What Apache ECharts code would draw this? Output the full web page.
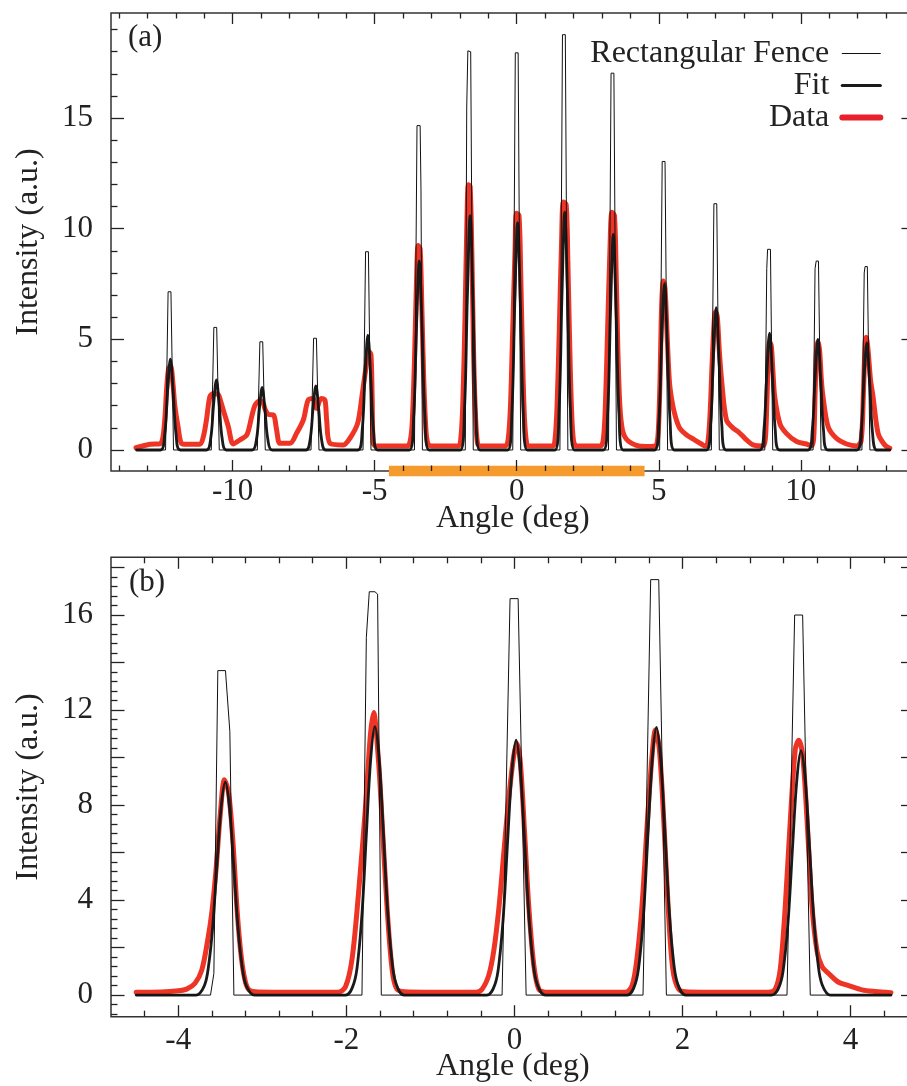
<!DOCTYPE html>
<html><head><meta charset="utf-8">
<script src="https://cdn.jsdelivr.net/npm/echarts@6/dist/echarts.min.js"></script>
<style>html,body{margin:0;padding:0;background:#fff;overflow:hidden}#c{width:907px;height:1086px}</style>
</head><body><div id="c"></div>
<script>
// ---------------- data: panel (a) ----------------
const xRangeA = [-14.28, 14.0];
const yRangeA = [-0.95, 19.75];
const xMajorA = [-10, -5, 0, 5, 10];
const xMinorA = [-14,-13,-12,-11,-9,-8,-7,-6,-4,-3,-2,-1,1,2,3,4,6,7,8,9,11,12,13,14];
const yMajorA = [0, 5, 10, 15];
const yMinorA = [1,2,3,4,6,7,8,9,11,12,13,14,16,17,18,19];
const zoomRangeA = [-4.5, 4.5];

const fenceA = [
  [-13.38,0],
  [-12.36,0],[-12.27,7.15],[-12.17,7.15],[-12.08,0],
  [-10.75,0],[-10.66,5.54],[-10.56,5.54],[-10.47,0],
  [-9.13,0],[-9.04,4.89],[-8.94,4.89],[-8.85,0],
  [-7.24,0],[-7.15,5.05],[-7.05,5.05],[-6.96,0],
  [-5.41,0],[-5.32,8.96],[-5.22,8.96],[-5.13,0],
  [-3.60,0],[-3.51,14.66],[-3.40,14.66],[-3.37,11.8],[-3.32,0],
  [-1.81,0],[-1.76,15.5],[-1.72,18.04],[-1.62,18.0],[-1.53,0],
  [-0.14,0],[-0.05,17.95],[0.05,17.95],[0.14,0],
  [1.52,0],[1.61,18.77],[1.71,18.77],[1.80,0],
  [3.23,0],[3.32,17.03],[3.42,17.03],[3.51,0],
  [5.03,0],[5.12,13.04],[5.22,13.04],[5.31,0],
  [6.85,0],[6.94,11.13],[7.04,11.13],[7.13,0],
  [8.73,0],[8.80,8.2],[8.83,9.07],[8.93,9.07],[9.01,0],
  [10.43,0],[10.50,8.2],[10.54,8.54],[10.62,8.54],[10.71,0],
  [12.15,0],[12.23,8.0],[12.26,8.29],[12.34,8.29],[12.43,0],
  [13.13,0]
];

const fitA = [
  [-13.38,0],[-12.54,0],[-12.39,0.70],[-12.29,2.62],[-12.19,4.10],[-12.09,2.62],[-11.99,0.70],[-11.84,0],
  [-10.92,0],[-10.77,0.54],[-10.67,2.03],[-10.57,3.17],[-10.47,2.03],[-10.37,0.54],[-10.22,0],
  [-9.31,0],[-9.16,0.48],[-9.06,1.81],[-8.96,2.83],[-8.86,1.81],[-8.76,0.48],[-8.61,0],
  [-7.42,0],[-7.27,0.49],[-7.17,1.86],[-7.07,2.90],[-6.97,1.86],[-6.87,0.49],[-6.72,0],
  [-5.59,0],[-5.44,0.88],[-5.34,3.32],[-5.24,5.19],[-5.14,3.32],[-5.04,0.88],[-4.89,0],
  [-3.78,0],[-3.63,1.45],[-3.53,5.47],[-3.43,8.54],[-3.33,5.47],[-3.23,1.45],[-3.08,0],
  [-1.99,0],[-1.84,1.80],[-1.74,6.78],[-1.64,10.59],[-1.54,6.78],[-1.44,1.80],[-1.29,0],
  [-0.32,0],[-0.17,1.75],[-0.07,6.58],[0.03,10.28],[0.13,6.58],[0.23,1.75],[0.38,0],
  [1.34,0],[1.49,1.83],[1.59,6.88],[1.69,10.75],[1.79,6.88],[1.89,1.83],[2.04,0],
  [3.05,0],[3.20,1.66],[3.30,6.23],[3.40,9.74],[3.50,6.23],[3.60,1.66],[3.75,0],
  [4.85,0],[5.00,1.28],[5.10,4.82],[5.20,7.53],[5.30,4.82],[5.40,1.28],[5.55,0],
  [6.67,0],[6.82,1.09],[6.92,4.12],[7.02,6.43],[7.12,4.12],[7.22,1.09],[7.37,0],
  [8.55,0],[8.70,0.90],[8.80,3.38],[8.90,5.28],[9.00,3.38],[9.10,0.90],[9.25,0],
  [10.25,0],[10.40,0.85],[10.50,3.20],[10.60,5.00],[10.70,3.20],[10.80,0.85],[10.95,0],
  [11.97,0],[12.12,0.82],[12.22,3.10],[12.32,4.84],[12.42,3.10],[12.52,0.82],[12.67,0],[13.13,0]
];

const dataA = [
  [-13.40,0.10],[-12.90,0.26],[-12.55,0.28],[-12.45,0.6],[-12.38,1.5],[-12.32,2.8],[-12.25,3.7],[-12.18,3.8],
  [-12.10,3.0],[-12.03,1.96],[-11.92,1.05],[-11.80,0.3],[-11.60,0.26],[-11.15,0.26],[-11.03,0.6],[-10.92,1.36],
  [-10.80,2.41],[-10.68,2.55],[-10.50,2.5],[-10.42,2.2],[-10.33,1.81],[-10.15,1.05],[-9.98,0.27],[-9.75,0.45],
  [-9.50,0.68],[-9.33,1.5],[-9.21,2.03],[-9.04,2.23],[-8.92,2.1],[-8.86,1.85],[-8.74,1.61],[-8.56,1.58],
  [-8.45,0.9],[-8.33,0.3],[-7.98,0.3],[-7.75,0.75],[-7.51,1.36],[-7.34,2.26],[-7.16,2.33],[-7.10,2.0],
  [-7.04,1.88],[-6.95,2.2],[-6.87,2.33],[-6.75,2.26],[-6.69,1.36],[-6.57,0.3],[-6.10,0.23],[-5.87,0.53],
  [-5.60,1.2],[-5.45,2.4],[-5.32,3.6],[-5.20,4.46],[-5.13,4.3],[-5.09,2.5],[-5.05,0.3],[-4.95,0.18],
  [-3.85,0.18],[-3.75,0.4],[-3.68,1.2],[-3.60,4.0],[-3.53,7.5],[-3.47,9.24],[-3.40,9.1],[-3.34,6.5],
  [-3.28,3.5],[-3.20,1.0],[-3.12,0.25],[-2.95,0.18],
  [-2.05,0.18],[-1.97,0.5],[-1.90,2.0],[-1.82,6.0],[-1.75,10.5],[-1.70,11.99],[-1.64,11.9],[-1.58,9.0],
  [-1.52,4.5],[-1.45,1.5],[-1.38,0.3],[-1.30,0.18],
  [-0.40,0.18],[-0.30,0.5],[-0.22,2.0],[-0.14,5.5],[-0.06,9.0],[-0.01,10.7],[0.08,10.6],[0.14,8.0],
  [0.20,4.5],[0.27,1.5],[0.35,0.3],[0.45,0.18],
  [1.27,0.18],[1.35,0.5],[1.42,2.0],[1.50,5.5],[1.58,9.5],[1.64,11.21],[1.74,11.1],[1.80,8.5],
  [1.86,5.0],[1.93,1.8],[2.00,0.4],[2.10,0.18],
  [2.95,0.18],[3.05,0.5],[3.12,2.0],[3.20,5.5],[3.28,9.0],[3.35,10.75],[3.44,10.6],[3.50,8.0],
  [3.56,4.5],[3.63,2.0],[3.72,0.9],[3.85,0.5],[4.05,0.3],[4.30,0.18],[4.70,0.16],
  [4.90,0.2],[4.98,0.8],[5.04,3.0],[5.10,6.5],[5.16,7.64],[5.22,7.3],[5.30,5.0],[5.38,3.0],
  [5.50,1.96],[5.62,1.36],[5.74,0.98],[5.98,0.68],[6.27,0.45],[6.50,0.27],[6.62,0.18],
  [6.72,0.3],[6.80,1.5],[6.88,4.0],[6.96,6.0],[7.00,6.25],[7.06,6.0],[7.13,4.5],[7.21,3.16],
  [7.38,1.36],[7.62,0.98],[7.79,0.83],[8.03,0.53],[8.32,0.23],[8.67,0.18],
  [8.75,0.5],[8.80,2.0],[8.85,4.0],[8.90,4.9],[8.96,4.7],[9.02,3.5],[9.08,2.41],[9.26,1.2],
  [9.49,0.75],[9.85,0.38],[10.20,0.27],[10.37,0.18],
  [10.45,0.5],[10.50,2.5],[10.55,4.5],[10.60,4.9],[10.66,4.5],[10.72,3.2],[10.78,2.41],[10.96,1.05],
  [11.25,0.53],[11.61,0.27],[11.96,0.18],
  [12.12,0.4],[12.20,2.5],[12.26,4.8],[12.30,5.09],[12.36,4.6],[12.45,3.2],[12.54,2.41],[12.72,0.75],
  [12.95,0.23],[13.13,0.08]
];

// ---------------- data: panel (b) ----------------
const xRangeB = [-4.8, 4.76];
const yRangeB = [-0.91, 18.43];
const xMajorB = [-4, -2, 0, 2, 4];
const xMinorB = [-4.4,-3.6,-3.2,-2.8,-2.4,-1.6,-1.2,-0.8,-0.4,0.4,0.8,1.2,1.6,2.4,2.8,3.2,3.6,4.4];
const yMajorB = [0, 2, 4, 6, 8, 10, 12, 14, 16, 18];
const yLabelB = [0, 4, 8, 12, 16];
const yMinorB = [-0.8,-0.4,0.4,0.8,1.2,1.6,2.4,2.8,3.2,3.6,4.4,4.8,5.2,5.6,6.4,6.8,7.2,7.6,
  8.4,8.8,9.2,9.6,10.4,10.8,11.2,11.6,12.4,12.8,13.2,13.6,14.4,14.8,15.2,15.6,16.4,16.8,17.2,17.6];

const fenceB = [
  [-4.50,0],
  [-3.616,0],[-3.576,0.91],[-3.529,13.66],[-3.438,13.66],[-3.386,11.09],[-3.338,0],
  [-1.814,0],[-1.762,15.05],[-1.727,16.98],[-1.66,16.98],[-1.628,16.88],[-1.584,0],
  [-0.147,0],[-0.052,16.69],[0.044,16.69],[0.139,0],
  [1.530,0],[1.621,17.49],[1.717,17.49],[1.808,0],
  [3.243,0],[3.334,16.0],[3.429,16.0],[3.520,0],
  [4.48,0]
];

const fitB = [
  [-4.50,0],
  [-3.79,0],[-3.69,0.39],[-3.64,1.21],[-3.59,2.87],[-3.54,5.47],[-3.49,7.89],[-3.44,8.97],[-3.39,7.89],[-3.34,5.47],[-3.29,2.87],[-3.24,1.21],[-3.19,0.39],[-3.09,0],
  [-2.01,0],[-1.91,0.50],[-1.86,1.53],[-1.81,3.62],[-1.76,6.89],[-1.71,9.94],[-1.66,11.3],[-1.61,9.94],[-1.56,6.89],[-1.51,3.62],[-1.46,1.53],[-1.41,0.50],[-1.31,0],
  [-0.33,0],[-0.23,0.47],[-0.18,1.45],[-0.13,3.43],[-0.08,6.55],[-0.03,9.44],[0.02,10.73],[0.07,9.44],[0.12,6.55],[0.17,3.43],[0.22,1.45],[0.27,0.47],[0.37,0],
  [1.34,0],[1.44,0.50],[1.49,1.52],[1.54,3.61],[1.59,6.87],[1.64,9.92],[1.69,11.27],[1.74,9.92],[1.79,6.87],[1.84,3.61],[1.89,1.52],[1.94,0.50],[2.04,0],
  [3.06,0],[3.16,0.45],[3.21,1.39],[3.26,3.29],[3.31,6.28],[3.36,9.06],[3.41,10.29],[3.46,9.06],[3.51,6.28],[3.56,3.29],[3.61,1.39],[3.66,0.45],[3.76,0],
  [4.48,0]
];

const dataB = [
  [-4.50,0.12],[-4.20,0.13],[-4.00,0.18],[-3.90,0.25],[-3.80,0.5],[-3.72,1.05],[-3.65,2.3],[-3.60,3.5],
  [-3.55,5.3],[-3.50,7.6],[-3.45,9.07],[-3.40,8.5],[-3.35,6.5],[-3.30,3.6],[-3.25,1.6],[-3.20,0.55],
  [-3.15,0.2],[-3.05,0.13],[-2.50,0.12],[-2.10,0.12],
  [-2.01,0.35],[-1.93,1.57],[-1.85,4.5],[-1.77,8.0],[-1.715,10.9],[-1.675,11.9],[-1.616,9.8],[-1.576,7.4],
  [-1.517,3.77],[-1.457,1.13],[-1.398,0.25],[-1.26,0.13],[-0.80,0.12],[-0.46,0.12],
  [-0.385,0.25],[-0.305,0.84],[-0.246,1.86],[-0.186,3.62],[-0.127,5.96],[-0.067,8.3],[-0.008,10.07],[0.032,10.58],
  [0.071,9.77],[0.123,6.7],[0.17,3.77],[0.23,1.27],[0.29,0.25],[0.37,0.12],[0.90,0.12],[1.32,0.12],
  [1.40,0.4],[1.459,1.57],[1.518,3.77],[1.578,7.1],[1.637,10.07],[1.677,11.16],[1.724,10.36],[1.776,7.4],
  [1.828,3.77],[1.883,1.13],[1.954,0.25],[2.07,0.13],[2.60,0.12],[3.025,0.12],
  [3.104,0.25],[3.164,1.13],[3.223,3.77],[3.283,7.4],[3.342,10.36],[3.382,10.73],[3.43,10.07],[3.481,7.4],
  [3.54,3.77],[3.60,1.86],[3.66,1.2],[3.738,0.91],[3.857,0.54],[3.976,0.4],[4.135,0.22],[4.293,0.15],[4.48,0.1]
];

// ---------------- styling ----------------
const FONT = "'Liberation Serif', 'Times New Roman', Times, serif";
const INK = '#222';
const RED = '#ee3424';
const ORANGE = '#f59b2d';
const GRID_L = 111, GRID_W = 803.5;
const gridA = { left: GRID_L, top: 13, width: GRID_W, height: 458 };
const gridB = { left: GRID_L, top: 557.3, width: GRID_W, height: 459.4 };

function tickAxis(dim, gi, pos, range, ticks, len, labels, margin, name, nameGap) {
  const ax = {
    type: 'value', gridIndex: gi, position: pos, min: range[0], max: range[1],
    z: 5, splitLine: { show: false },
    axisLine: { show: false, onZero: false },
    axisTick: { show: true, inside: true, length: len, customValues: ticks,
                lineStyle: { color: INK, width: 1.3 } },
    axisLabel: labels ? { show: true, customValues: labels, margin: margin,
                fontFamily: FONT, fontSize: 31, color: INK } : { show: false }
  };
  if (name) {
    ax.name = name; ax.nameLocation = 'middle'; ax.nameGap = nameGap;
    ax.nameTextStyle = { fontFamily: FONT, fontSize: 32, color: INK };
    if (dim === 'y') ax.nameRotate = 90;
    else ax.nameMoveOverlap = false;
  }
  return ax;
}

const xAxes = [
  tickAxis('x', 0, 'bottom', xRangeA, xMajorA, 11, xMajorA, 5, 'Angle (deg)', 32),
  tickAxis('x', 0, 'bottom', xRangeA, xMinorA, 5.5),
  tickAxis('x', 0, 'top', xRangeA, xMajorA, 11),
  tickAxis('x', 0, 'top', xRangeA, xMinorA, 5.5),
  tickAxis('x', 1, 'bottom', xRangeB, xMajorB, 11.5, xMajorB, 9, 'Angle (deg)', 33.5),
  tickAxis('x', 1, 'bottom', xRangeB, xMinorB, 6),
  tickAxis('x', 1, 'top', xRangeB, xMajorB, 11.5),
  tickAxis('x', 1, 'top', xRangeB, xMinorB, 6)
];
const yAxes = [
  tickAxis('y', 0, 'left', yRangeA, yMajorA, 13, yMajorA, 18, 'Intensity (a.u.)', 66),
  tickAxis('y', 0, 'left', yRangeA, yMinorA, 6.5),
  tickAxis('y', 0, 'right', yRangeA, yMajorA, 13),
  tickAxis('y', 0, 'right', yRangeA, yMinorA, 6.5),
  tickAxis('y', 1, 'left', yRangeB, yMajorB, 13.5, yLabelB, 18, 'Intensity (a.u.)', 66),
  tickAxis('y', 1, 'left', yRangeB, yMinorB, 6.5),
  tickAxis('y', 1, 'right', yRangeB, yMajorB, 13.5),
  tickAxis('y', 1, 'right', yRangeB, yMinorB, 6.5)
];

function lineSeries(name, data, xi, yi, width, color, z, smooth) {
  return {
    name: name, type: 'line', data: data, xAxisIndex: xi, yAxisIndex: yi,
    symbol: 'none', smooth: smooth || false, z: z, silent: true, animation: false,
    lineStyle: { width: width, color: color, join: 'round', cap: 'round' },
    itemStyle: { color: color }
  };
}

const series = [
  lineSeries('Data', dataA, 0, 0, 5, RED, 2, 0.3),
  lineSeries('Fit', fitA, 0, 0, 2.8, '#1a1a1a', 3, 0.35),
  lineSeries('Rectangular Fence', fenceA, 0, 0, 1, '#111', 4, false),
  lineSeries('Data', dataB, 4, 4, 5, RED, 2, 0.3),
  lineSeries('Fit', fitB, 4, 4, 2.8, '#1a1a1a', 3, 0.35),
  lineSeries('Rectangular Fence', fenceB, 4, 4, 1, '#111', 4, false),
  {
    name: 'range', type: 'line', xAxisIndex: 0, yAxisIndex: 0, clip: false, z: 1,
    symbol: 'none', silent: true, animation: false,
    data: [[zoomRangeA[0], yRangeA[0]], [zoomRangeA[1], yRangeA[0]]],
    lineStyle: { width: 10.5, color: ORANGE, cap: 'butt' }
  }
];

const gridBase = { show: true, borderColor: '#333', borderWidth: 1.5, backgroundColor: 'transparent',
                   containLabel: false, outerBoundsMode: 'none' };

const chart = echarts.init(document.getElementById('c'), null, { renderer: 'canvas' });
chart.setOption({
  backgroundColor: '#fff',
  animation: false,
  grid: [ Object.assign({}, gridBase, gridA), Object.assign({}, gridBase, gridB) ],
  xAxis: xAxes,
  yAxis: yAxes,
  legend: {
    data: [
      { name: 'Rectangular Fence', lineStyle: { width: 1.2, color: '#111' } },
      { name: 'Fit', lineStyle: { width: 3.2, color: '#1a1a1a' } },
      { name: 'Data', lineStyle: { width: 6, color: '#e8202a' } }
    ],
    orient: 'vertical', align: 'right', right: 23.7, top: 37.5,
    itemWidth: 38, itemHeight: 14, itemGap: 0, padding: 0, selectedMode: false,
    itemStyle: { opacity: 0, borderWidth: 0 },
    textStyle: { fontFamily: FONT, fontSize: 32, color: INK, lineHeight: 29.7, padding: [0, 8, 0, 0] }
  },
  graphic: [
    { type: 'text', left: 128, top: 22, style: { text: '(a)', font: "31px 'Liberation Serif', 'Times New Roman', serif", fill: INK } },
    { type: 'text', left: 129, top: 567, style: { text: '(b)', font: "31px 'Liberation Serif', 'Times New Roman', serif", fill: INK } }
  ],
  series: series
});
</script></body></html>
